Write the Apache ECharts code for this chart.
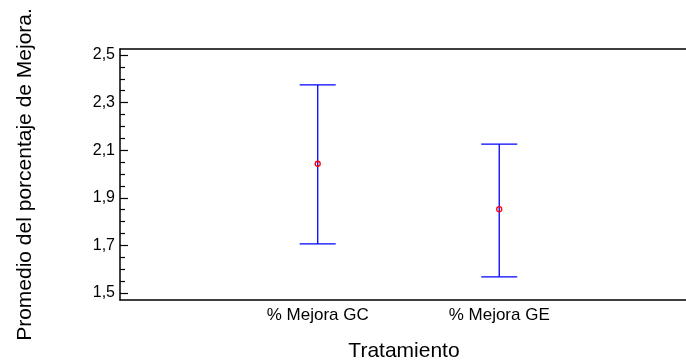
<!DOCTYPE html>
<html>
<head>
<meta charset="utf-8">
<script src="https://cdn.jsdelivr.net/npm/echarts@6/dist/echarts.min.js"></script>
<style>
html,body{margin:0;padding:0;background:#fff;}
#chart{width:686px;height:360px;}
</style>
</head>
<body>
<div id="chart"></div>
<script>
// Data
var categories = ['% Mejora GC', '% Mejora GE'];
var means = [2.043, 1.852];
var lower = [1.706, 1.568];
var upper = [2.374, 2.125];
var yTickValues = [1.5, 1.7, 1.9, 2.1, 2.3, 2.5];
var yMinorValues = [1.55, 1.6, 1.65, 1.75, 1.8, 1.85, 1.95, 2.0, 2.05, 2.15, 2.2, 2.25, 2.35, 2.4, 2.45];
var yTitle = 'Promedio del porcentaje de Mejora.';
var xTitle = 'Tratamiento';

var font = 'Liberation Sans, Arial, sans-serif';
var catX = categories.map(function (c, i) { return i + 1; });

var chart = echarts.init(document.getElementById('chart'), null, {renderer: 'canvas'});
var option = {
  animation: false,
  backgroundColor: '#fff',
  grid: {left: 120, right: -2, top: 49, bottom: 60, containLabel: false, outerBoundsMode: 'none'},
  xAxis: [{
    type: 'value', position: 'bottom',
    min: -0.0893, max: 3.04,
    axisLine: {show: true, onZero: false, lineStyle: {color: '#000', width: 1.5}},
    axisTick: {show: false},
    splitLine: {show: false},
    axisLabel: {
      customValues: catX,
      margin: 7,
      fontFamily: font, fontSize: 17, color: '#000',
      formatter: function (v) { return categories[Math.round(v) - 1] || ''; }
    },
    name: xTitle, nameLocation: 'middle', nameGap: 41,
    nameTextStyle: {fontFamily: font, fontSize: 21, color: '#000'}
  }, {
    type: 'value', position: 'top',
    min: -0.0893, max: 3.04,
    axisLine: {show: true, onZero: false, lineStyle: {color: '#000', width: 1.5}},
    axisTick: {show: false}, axisLabel: {show: false}, splitLine: {show: false}
  }],
  yAxis: [{
    type: 'value', position: 'left', offset: 0,
    min: 1.4706, max: 2.525,
    axisLine: {show: true, onZero: false, lineStyle: {color: '#000', width: 1.5}},
    axisTick: {show: true, inside: true, length: 8, customValues: yTickValues, lineStyle: {color: '#000', width: 1.2}},
    axisLabel: {
      customValues: yTickValues, margin: 5,
      fontFamily: font, fontSize: 16, color: '#000',
      formatter: function (v) { return v.toFixed(1).replace('.', ','); }
    },
    splitLine: {show: false},
    name: yTitle, nameLocation: 'middle', nameGap: 84, nameRotate: 90,
    nameTextStyle: {fontFamily: font, fontSize: 21, color: '#000'}
  }, {
    type: 'value', position: 'left', offset: 0,
    min: 1.4706, max: 2.525,
    axisLine: {show: false, onZero: false},
    axisTick: {show: true, inside: true, length: 5, customValues: yMinorValues, lineStyle: {color: '#000', width: 1.2}},
    axisLabel: {show: false},
    splitLine: {show: false}
  }],
  series: [{
    type: 'custom',
    xAxisIndex: 0, yAxisIndex: 0,
    data: catX.map(function (x, i) { return [x, lower[i], upper[i]]; }),
    renderItem: function (params, api) {
      var x = api.value(0);
      var lo = api.coord([x, api.value(1)]);
      var hi = api.coord([x, api.value(2)]);
      var hw = 18;
      var st = {stroke: '#0000ff', lineWidth: 1.3};
      return {
        type: 'group',
        children: [
          {type: 'line', shape: {x1: lo[0], y1: lo[1], x2: hi[0], y2: hi[1]}, style: st},
          {type: 'line', shape: {x1: hi[0] - hw, y1: hi[1], x2: hi[0] + hw, y2: hi[1]}, style: st},
          {type: 'line', shape: {x1: lo[0] - hw, y1: lo[1], x2: lo[0] + hw, y2: lo[1]}, style: st}
        ]
      };
    },
    z: 2
  }, {
    type: 'scatter',
    xAxisIndex: 0, yAxisIndex: 0,
    data: catX.map(function (x, i) { return [x, means[i]]; }),
    symbol: 'circle', symbolSize: 5,
    itemStyle: {color: 'rgba(0,0,0,0)', borderColor: '#ff0000', borderWidth: 1.3, opacity: 1},
    z: 3
  }]
};
chart.setOption(option);
</script>
</body>
</html>
